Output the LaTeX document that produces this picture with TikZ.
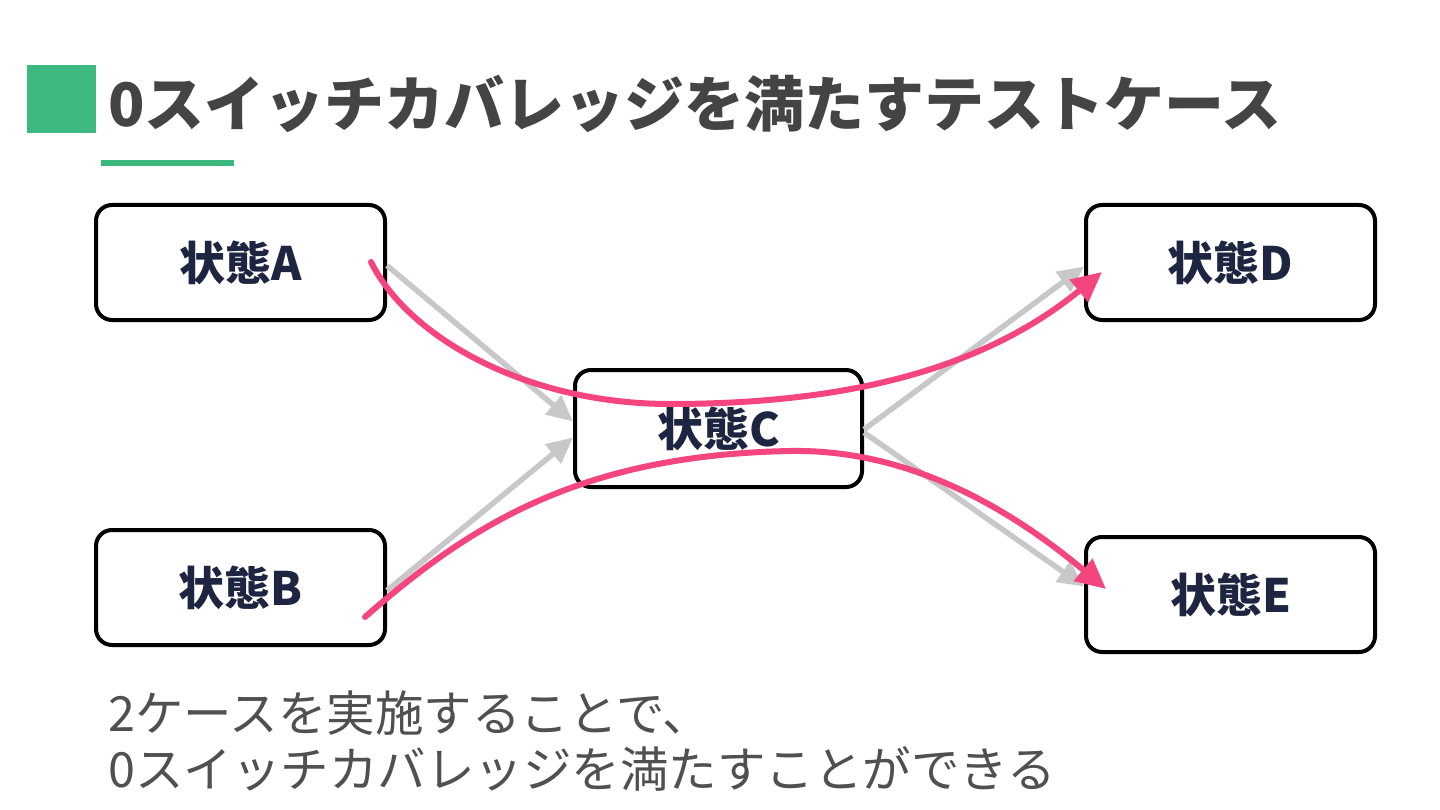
\documentclass[tikz,border=0pt]{standalone}
\usepackage{fontspec}
\newfontfamily\jpfont{Noto Sans CJK JP}
\usetikzlibrary{arrows.meta,calc}
\definecolor{titlegray}{HTML}{444444}
\definecolor{bodygray}{HTML}{505050}
\definecolor{navy}{HTML}{1E2541}
\definecolor{accent}{HTML}{3DB87F}
\definecolor{arrowgray}{HTML}{C8C8C8}
\definecolor{pinkline}{HTML}{F5457F}
\begin{document}
\begin{tikzpicture}[x=1pt,y=-1pt,
  statebox/.style={draw=black,line width=4pt,rounded corners=16pt,fill=white,
    minimum width=289pt,minimum height=115pt,inner sep=0pt,
    font=\jpfont\bfseries\fontsize{46}{50}\selectfont,text=navy},
  grayarrow/.style={draw=arrowgray,line width=5.5pt,-{Triangle[length=26pt,width=24pt]}},
  pinkarrow/.style={draw=pinkline,line width=6pt,line cap=round,-{Triangle[length=30pt,width=28pt]}},
  captionline/.style={anchor=base west,inner sep=0pt,text=bodygray,font=\jpfont\fontsize{48.5}{57}\selectfont},
]
\useasboundingbox (0,0) rectangle (1440,810);
\fill[white] (0,0) rectangle (1440,810);
% header
\fill[accent] (27,65) rectangle (96,133);
\fill[accent] (101,160) rectangle (234,166);
\node[anchor=base west,inner sep=0pt,text=titlegray,font=\jpfont\bfseries\fontsize{60}{66}\selectfont] (title) at (108,127) {0スイッチカバレッジを満たすテストケース};
% states
\node[statebox] (A) at (240.5,262.5) {状態A};
\node[statebox] (B) at (240.5,587.5) {状態B};
\node[statebox,minimum width=287pt,minimum height=117pt] (C) at (718.5,428.5) {状態C};
\node[statebox] (D) at (1230.5,262.5) {状態D};
\node[statebox] (E) at (1230.5,594.5) {状態E};
% gray transitions
\draw[grayarrow] ([yshift=-3pt]A.east) -- ([yshift=7pt]C.west);
\draw[grayarrow] ([yshift=-3pt]B.east) -- ([yshift=-9pt]C.west);
\draw[grayarrow] ([yshift=-1pt]C.east) -- ([yshift=-4pt]D.west);
\draw[grayarrow] ([yshift=-4pt]C.east) -- ([yshift=8pt]E.west);
% pink test cases
\coordinate (p1s) at (371,262);
\coordinate (p1m) at (670,404);
\coordinate (p1e) at (1102,272);
\coordinate (p2s) at (365,617);
\coordinate (p2m) at (790,451);
\coordinate (p2e) at (1106,589);
\draw[pinkarrow] (p1s) .. controls (410,340) and (530,404) .. (p1m)
  .. controls (850,404) and (985,368) .. (p1e);
\draw[pinkarrow] (p2s) .. controls (470,525) and (580,455) .. (p2m)
  .. controls (900,449) and (1000,500) .. (p2e);
% caption
\node[captionline] (cap1) at (108,731) {2ケースを実施することで、};
\node[captionline] (cap2) at (108,787) {0スイッチカバレッジを満たすことができる};
\end{tikzpicture}
\end{document}
